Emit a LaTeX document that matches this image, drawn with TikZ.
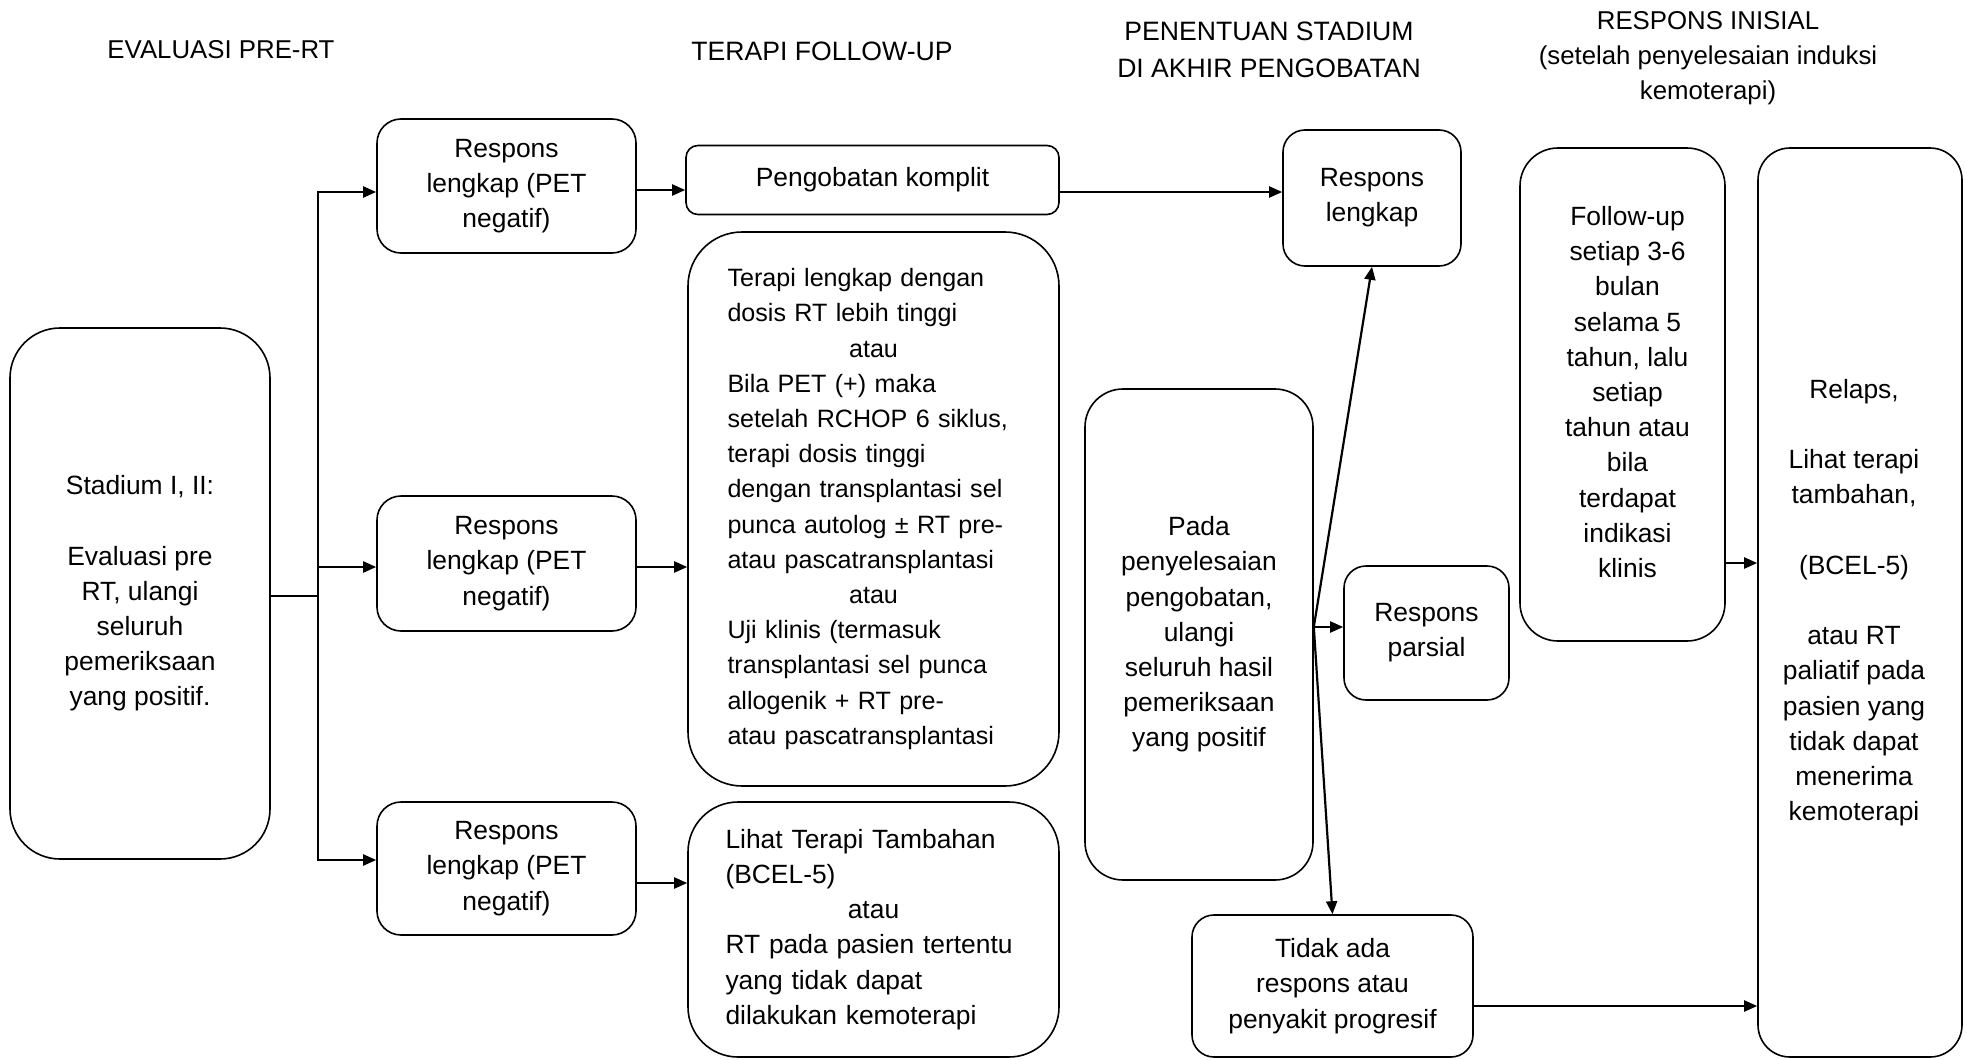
\documentclass[tikz,border=0pt]{standalone}
\usepackage{fontspec}
\setmainfont{Liberation Sans}
\usetikzlibrary{arrows.meta,calc}
\begin{document}
\begin{tikzpicture}[x=0.5pt,y=-0.5pt,
  txt/.style={font=\fontsize{13.2pt}{17.6pt}\selectfont, align=center, inner sep=0pt},
  box/.style={txt, draw, line width=0.8pt, rounded corners=#1},
  box/.default=11pt,
  arr/.style={line width=1.1pt, -{Triangle[length=6.5pt,width=5.5pt]}},
  line/.style={line width=1.1pt}]
\useasboundingbox (0,0) rectangle (1966,1060);

% column headings
\node[txt, font=\fontsize{12.9pt}{17.6pt}\selectfont] (h1) at (221,50) {EVALUASI PRE-RT};
\node[txt, font=\fontsize{13.3pt}{17.6pt}\selectfont] (h2) at (822,51) {TERAPI FOLLOW-UP};
\node[txt, font=\fontsize{13.3pt}{18.8pt}\selectfont] (h3) at (1269,50) {PENENTUAN STADIUM\\DI AKHIR PENGOBATAN};
\node[txt, font=\fontsize{12.9pt}{17.5pt}\selectfont] (h4) at (1708,58) {RESPONS INISIAL\\(setelah penyelesaian induksi\\kemoterapi)};

% stage box
\node[box=25pt, minimum width=130pt, minimum height=265.5pt] (stad) at (140,593.5)
  {Stadium I, II:\\[17.6pt]Evaluasi pre\\RT, ulangi\\seluruh\\pemeriksaan\\yang positif.};

% responses after evaluation
\node[box=12pt, minimum width=129.5pt, minimum height=67pt] (r1) at (506.5,186) {Respons\\lengkap (PET\\negatif)};
\node[box=12pt, minimum width=129.5pt, minimum height=67.5pt] (r2) at (506.5,563.5) {Respons\\lengkap (PET\\negatif)};
\node[box=12pt, minimum width=129.5pt, minimum height=66.5pt] (r3) at (506.5,868.5) {Respons\\lengkap (PET\\negatif)};

% follow-up therapy
\node[box=6pt, minimum width=186.5pt, minimum height=34.5pt] (pk) at (872.5,180) {Pengobatan komplit};
\node[box=27pt, minimum width=185.5pt, minimum height=277pt, text width=146pt, align=left,
      font=\fontsize{12.55pt}{17.6pt}\selectfont] (big) at (873.5,509)
  {Terapi lengkap dengan\\
   dosis RT lebih tinggi\\
   \makebox[146pt]{atau}\\
   Bila PET (+) maka\\
   setelah RCHOP 6 siklus,\\
   terapi dosis tinggi\\
   dengan transplantasi sel\\
   punca autolog ± RT pre-\\
   atau pascatransplantasi\\
   \makebox[146pt]{atau}\\
   Uji klinis (termasuk\\
   transplantasi sel punca\\
   allogenik + RT pre-\\
   atau pascatransplantasi};
\node[box=25pt, minimum width=185.5pt, minimum height=127.5pt, text width=148pt, align=left] (lihat) at (873.5,929.5)
  {Lihat Terapi Tambahan\\
   (BCEL-5)\\
   \makebox[148pt]{atau}\\
   RT pada pasien tertentu\\
   yang tidak dapat\\
   dilakukan kemoterapi};

% staging at end of treatment
\node[box=19pt, minimum width=114pt, minimum height=245.5pt] (pada) at (1199,634.5)
  {Pada\\penyelesaian\\pengobatan,\\ulangi\\seluruh hasil\\pemeriksaan\\yang positif};
\node[box=11pt, minimum width=89pt, minimum height=68pt] (rl) at (1372,198) {Respons\\lengkap};
\node[box=11pt, minimum width=82.5pt, minimum height=67pt] (rp) at (1426.5,633) {Respons\\parsial};
\node[box=11pt, minimum width=140.5pt, minimum height=71pt] (tidak) at (1332.5,986) {Tidak ada\\respons atau\\penyakit progresif};

% initial response
\node[box=19pt, minimum width=102.5pt, minimum height=246.5pt] (fu) at (1622.5,394.5)
  {\hspace*{5pt}\begin{tabular}{@{}c@{}}Follow-up\\setiap 3-6\\bulan\\selama 5\\tahun, lalu\\setiap\\tahun atau\\bila\\terdapat\\indikasi\\klinis\end{tabular}};
\node[box=16pt, minimum width=102pt, minimum height=454.5pt] (relaps) at (1860,602.5)
  {\begin{tabular}{@{}c@{}}Relaps,\\[17.6pt]Lihat terapi\\tambahan,\\[17.6pt](BCEL-5)\\[17.6pt]atau RT\\paliatif pada\\pasien yang\\tidak dapat\\menerima\\kemoterapi\end{tabular}\hspace*{6pt}};

% branching from the stage box
\coordinate (jn) at (318,596);
\draw[line] (stad.east |- jn) -- (jn);
\draw[arr] (jn) |- ([yshift=-3pt]r1.west);
\draw[arr] (jn) |- ([yshift=-1.75pt]r2.west);
\draw[arr] (jn) |- ([yshift=4.25pt]r3.west);

% responses to therapy
\coordinate (a1) at ([yshift=-2pt]r1.east);
\draw[arr] (a1) -- (a1 -| pk.west);
\coordinate (a2) at ([yshift=-1.75pt]r2.east);
\draw[arr] (a2) -- (a2 -| big.west);
\coordinate (a3) at ([yshift=-7.25pt]r3.east);
\draw[arr] (a3) -- (a3 -| lihat.west);

% therapy to staging
\coordinate (a4) at ([yshift=-6pt]pk.east);
\draw[arr] (a4) -- (a4 -| rl.west);

% staging outcomes
\coordinate (fork) at ([yshift=3.75pt]pada.east);
\draw[arr] (fork) -- (rl.south);
\draw[arr] (fork) -- (fork -| rp.west);
\draw[arr] (fork) -- (tidak.north);

% to relapse
\coordinate (a5) at ([yshift=-84.25pt]fu.east);
\draw[arr] (a5) -- (a5 -| relaps.west);
\coordinate (a6) at ([yshift=-10pt]tidak.east);
\draw[arr] (a6) -- (a6 -| relaps.west);
\end{tikzpicture}
\end{document}
